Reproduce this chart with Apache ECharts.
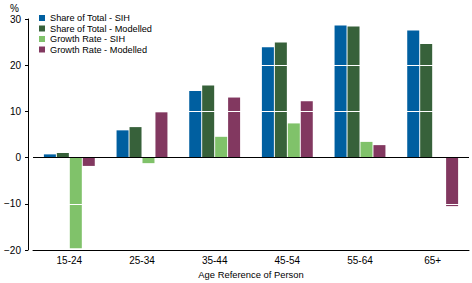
<!DOCTYPE html>
<html>
<head>
<meta charset="utf-8">
<script src="https://cdn.jsdelivr.net/npm/echarts@6/dist/echarts.min.js"></script>
<style>
  html, body {margin: 0; padding: 0; background: #fff;}
  #chart {width: 472px; height: 283px;}
</style>
</head>
<body>
<div id="chart"></div>
<script>
const ageGroups = ['15-24', '25-34', '35-44', '45-54', '55-64', '65+'];
const shareSih = [0.7, 5.9, 14.4, 23.9, 28.6, 27.5];
const shareModelled = [1.0, 6.6, 15.6, 24.9, 28.4, 24.6];
const growthSih = [-19.6, -1.2, 4.5, 7.4, 3.4, null];
const growthModelled = [-1.8, 9.8, 13.0, 12.2, 2.7, -10.5];

const font = '"Liberation Sans", Arial, sans-serif';
const minus = (v) => String(v).replace('-', '\u2212');

const bar = (name, data, color) => ({
  name,
  type: 'bar',
  data,
  barWidth: 12,
  barGap: '8%',
  itemStyle: {color},
  emphasis: {disabled: true},
});

const chart = echarts.init(document.getElementById('chart'), null, {renderer: 'svg'});
chart.setOption({
  animation: false,
  textStyle: {fontFamily: font, color: '#000'},
  grid: {left: 33, right: 3, top: 19, bottom: 33, outerBoundsMode: 'none', containLabel: false},
  legend: {
    orient: 'vertical',
    left: 34,
    top: 8,
    itemWidth: 6,
    itemHeight: 6,
    itemGap: 0.5,
    itemStyle: {borderWidth: 0},
    icon: 'rect',
    textStyle: {fontFamily: font, fontSize: 9.2, color: '#000', lineHeight: 10},
    data: ['Share of Total - SIH', 'Share of Total - Modelled', 'Growth Rate - SIH', 'Growth Rate - Modelled'],
  },
  xAxis: {
    type: 'category',
    data: ageGroups,
    name: 'Age Reference of Person',
    nameLocation: 'middle',
    nameGap: 20,
    nameTextStyle: {fontSize: 9.4, color: '#000'},
    axisLine: {onZero: false, lineStyle: {color: '#000', width: 1}},
    axisTick: {alignWithLabel: true, length: 3, lineStyle: {color: '#000'}},
    axisLabel: {fontSize: 10, color: '#000', margin: 5},
  },
  yAxis: {
    type: 'value',
    min: -20,
    max: 30,
    interval: 10,
    offset: 5,
    z: 5,
    name: '%',
    nameGap: 6,
    nameTextStyle: {fontSize: 10, color: '#000', align: 'right', padding: [0, 9, 0, 0]},
    axisLine: {show: true, lineStyle: {color: '#000', width: 1}},
    axisTick: {show: true, length: 3, lineStyle: {color: '#000'}},
    axisLabel: {fontSize: 10, color: '#000', margin: 7, formatter: minus},
    splitLine: {
      show: true,
      lineStyle: {color: ['rgba(0,0,0,0)', '#fff', '#000', '#fff', '#fff', 'rgba(0,0,0,0)'], width: 1},
    },
  },
  series: [
    bar('Share of Total - SIH', shareSih, '#005fa0'),
    bar('Share of Total - Modelled', shareModelled, '#37613a'),
    bar('Growth Rate - SIH', growthSih, '#80c26a'),
    bar('Growth Rate - Modelled', growthModelled, '#823860'),
  ],
});
</script>
</body>
</html>
